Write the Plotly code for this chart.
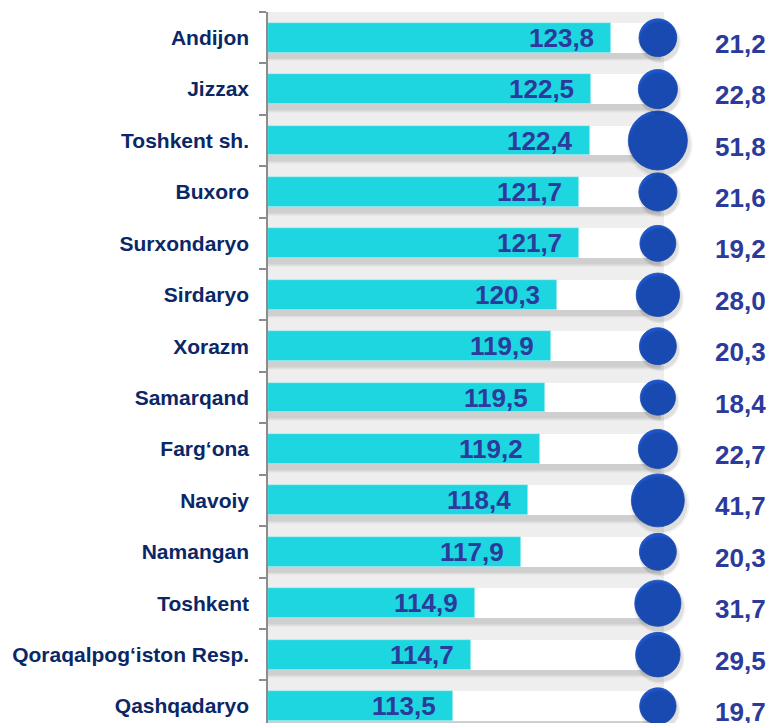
import plotly.graph_objects as go

regions = ["Andijon", "Jizzax", "Toshkent sh.", "Buxoro", "Surxondaryo", "Sirdaryo",
           "Xorazm", "Samarqand", "Farg\u2018ona", "Navoiy", "Namangan", "Toshkent",
           "Qoraqalpog\u2018iston Resp.", "Qashqadaryo"]
index_values = [123.8, 122.5, 122.4, 121.7, 121.7, 120.3, 119.9, 119.5, 119.2, 118.4,
                117.9, 114.9, 114.7, 113.5]
share_values = [21.2, 22.8, 51.8, 21.6, 19.2, 28.0, 20.3, 18.4, 22.7, 41.7,
                20.3, 31.7, 29.5, 19.7]

def fmt(v):
    return f"{v:.1f}".replace(".", ",")

X_MIN, X_MAX = 101.44, 127.25
BAR_END = 127.05
BUBBLE_X = 126.85
Y_RANGE = [13.33, -0.5]
BLUE_TXT = "#2B3A9B"
FONT = "Liberation Sans, Arial"
max_share = max(share_values)

fig = go.Figure()

# soft shadow under the white track bars
for w, off, a in [(0.72, -0.26, 0.025), (0.68, -0.24, 0.03), (0.64, -0.22, 0.035), (0.61, -0.205, 0.04)]:
    fig.add_trace(go.Bar(y=regions, x=[BAR_END - X_MIN] * len(regions), base=X_MIN,
                         orientation="h", width=w, offset=off,
                         marker=dict(color=f"rgba(0,0,0,{a})", line_width=0),
                         hoverinfo="skip", showlegend=False))

fig.add_trace(go.Bar(y=regions, x=[BAR_END - X_MIN] * len(regions), base=X_MIN,
                     orientation="h", width=0.58, offset=-0.29,
                     marker=dict(color="white", line_width=0),
                     hoverinfo="skip", showlegend=False))

fig.add_trace(go.Bar(y=regions, x=[v - X_MIN for v in index_values], base=X_MIN,
                     orientation="h", width=0.58, offset=-0.29,
                     marker=dict(color="#1DD6DF", line=dict(color="#B8EEF1", width=0.6)),
                     showlegend=False))

# bubble shadows, drawn on a slightly shifted overlay axis
for scale, a in [(1.12, 0.05), (1.05, 0.08)]:
    fig.add_trace(go.Scatter(y=regions, x=[BUBBLE_X] * len(regions), mode="markers",
                             xaxis="x2", yaxis="y2",
                             marker=dict(size=share_values, sizemode="area",
                                         sizeref=2 * max_share / (59 * scale) ** 2, opacity=1,
                                         color=f"rgba(0,0,0,{a})", line_width=0),
                             hoverinfo="skip", cliponaxis=False, showlegend=False))

fig.add_trace(go.Scatter(y=regions, x=[BUBBLE_X] * len(regions), mode="markers",
                         marker=dict(size=share_values, sizemode="area",
                                     sizeref=2 * max_share / 59 ** 2, opacity=1,
                                     color="#1D56CC", line=dict(color="#1A4FBF", width=0.8)),
                         cliponaxis=False, showlegend=False))

annotations = []
for r, v in zip(regions, index_values):
    annotations.append(dict(x=v, y=r, xref="x", yref="y", text=f"<b>{fmt(v)}</b>",
                            showarrow=False, xanchor="right", xshift=-15,
                            font=dict(family=FONT, size=26, color=BLUE_TXT, weight="bold")))
for r, s in zip(regions, share_values):
    annotations.append(dict(x=1.262, y=r, xref="paper", yref="y", text=f"<b>{fmt(s)}</b>",
                            showarrow=False, xanchor="right", yshift=-6,
                            font=dict(family=FONT, size=26, color=BLUE_TXT, weight="bold")))

# page body has an 8px margin, so the figure is shifted and sized to fit the window
fig.update_layout(
    width=768, height=715,
    margin=dict(l=260, r=112, t=4, b=0),
    paper_bgcolor="white", plot_bgcolor="#EEEEEE",
    barmode="overlay", bargap=0,
    annotations=annotations,
    xaxis=dict(range=[X_MIN, X_MAX], visible=False, fixedrange=True),
    xaxis2=dict(range=[X_MIN - 0.12, X_MAX - 0.12], overlaying="x", visible=False),
    yaxis=dict(categoryorder="array", categoryarray=regions, range=Y_RANGE,
               showline=True, linecolor="#8C8C8C", linewidth=1.5,
               ticks="outside", tickson="boundaries", ticklen=7, tickcolor="#8C8C8C",
               tickwidth=1.5, showgrid=False, ticklabelstandoff=13,
               tickfont=dict(family=FONT, size=21, color="#0B2765", weight="bold"),
               tickprefix="<b>", ticksuffix="</b>"),
    yaxis2=dict(categoryorder="array", categoryarray=regions,
                range=[Y_RANGE[0] - 0.08, Y_RANGE[1] - 0.08], overlaying="y", visible=False),
)

fig.write_html("out.html")
